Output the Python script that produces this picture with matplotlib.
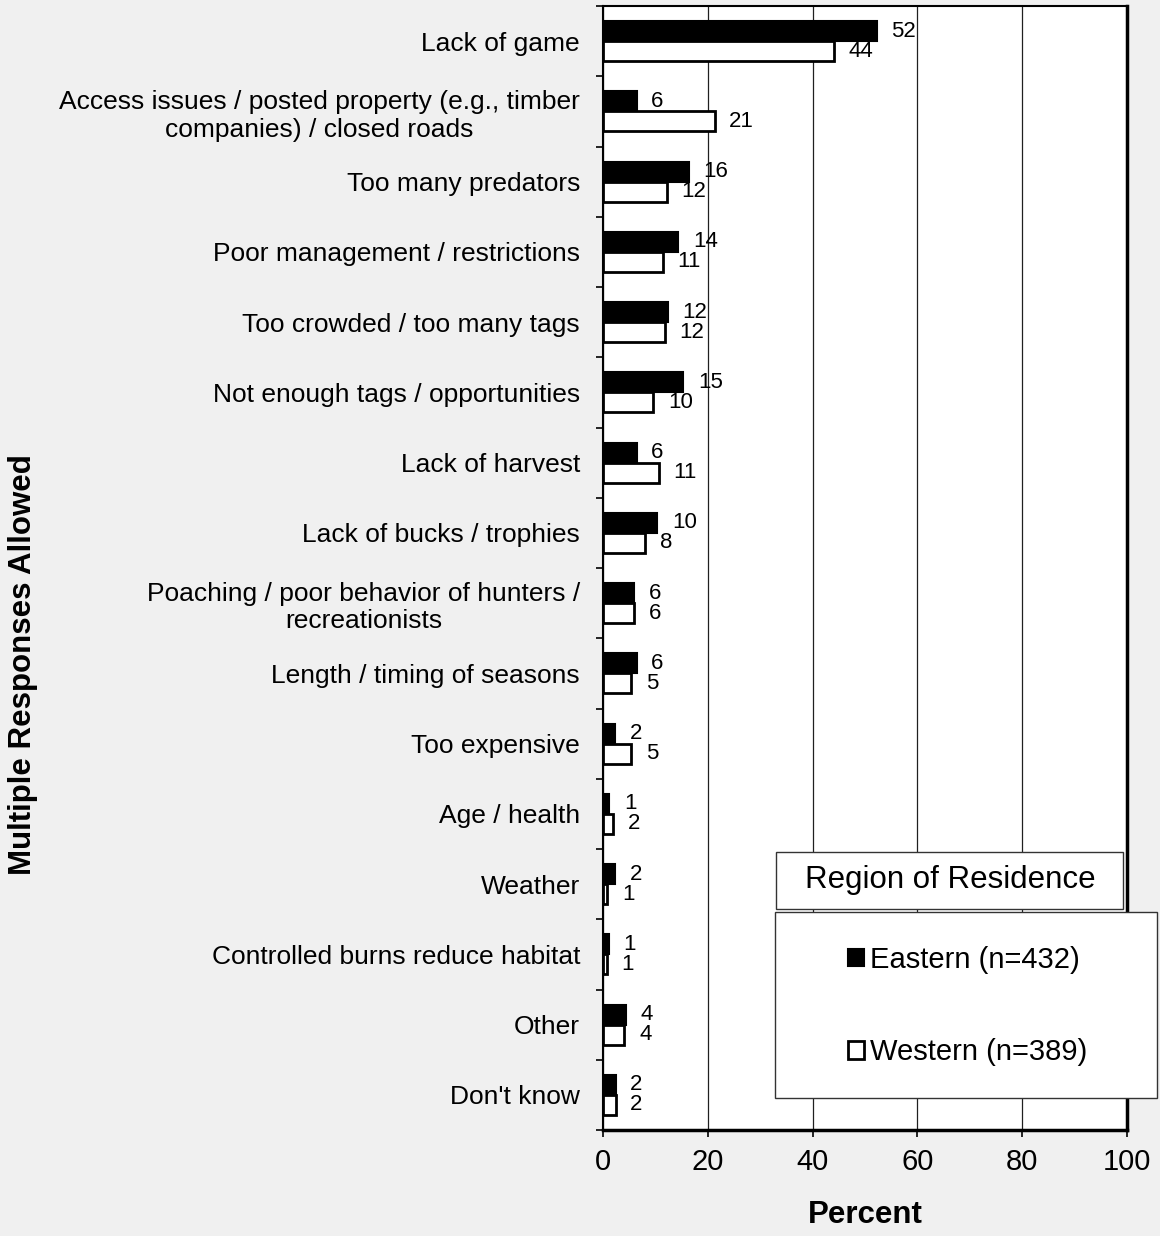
import matplotlib
matplotlib.use("Agg")
import matplotlib.pyplot as plt
from matplotlib.patches import Rectangle
import numpy as np

plt.rcParams['font.family'] = ['Liberation Sans', 'DejaVu Sans']

# Reasons given (top to bottom), multiple responses allowed
categories = [
    "Lack of game",
    "Access issues / posted property (e.g., timber\ncompanies) / closed roads",
    "Too many predators",
    "Poor management / restrictions",
    "Too crowded / too many tags",
    "Not enough tags / opportunities",
    "Lack of harvest",
    "Lack of bucks / trophies",
    "Poaching / poor behavior of hunters /\nrecreationists",
    "Length / timing of seasons",
    "Too expensive",
    "Age / health",
    "Weather",
    "Controlled burns reduce habitat",
    "Other",
    "Don't know",
]
eastern = [52.2, 6.4, 16.4, 14.4, 12.4, 15.3, 6.4, 10.4, 5.9, 6.4, 2.3, 1.2, 2.3, 1.1, 4.4, 2.4]
western = [44.1, 21.3, 12.2, 11.4, 11.8, 9.6, 10.7, 8.1, 6.0, 5.4, 5.4, 1.9, 0.8, 0.7, 4.1, 2.4]
series_names = ["Eastern (n=432)", "Western (n=389)"]
legend_title = "Region of Residence"
x_ticks = [0, 20, 40, 60, 80, 100]

W, H = 1160, 1236
fig = plt.figure(figsize=(W / 100, H / 100), dpi=100)
fig.patch.set_facecolor('#F0F0F0')


def fx(px):
    return px / W


def fy(py):
    return 1 - py / H


ax = fig.add_axes([fx(603), fy(1130), fx(1127) - fx(603), fy(6) - fy(1130)])
ax.set_facecolor('white')

y = np.arange(len(categories))
bh = 0.286
b1 = ax.barh(y - bh / 2, eastern, height=bh, color='black', edgecolor='black',
             linewidth=1.5, zorder=3, label=series_names[0])
b2 = ax.barh(y + bh / 2, western, height=bh, color='white', edgecolor='black',
             linewidth=2, zorder=3, label=series_names[1])

for yy, v in zip(y - bh / 2, eastern):
    ax.annotate(f"{v:.0f}", (v, yy), xytext=(10.5, 0), textcoords='offset points',
                ha='left', va='center', fontsize=16, zorder=4)
for yy, v in zip(y + bh / 2, western):
    ax.annotate(f"{v:.0f}", (v, yy), xytext=(10.5, 0), textcoords='offset points',
                ha='left', va='center', fontsize=16, zorder=4)

ax.set_xlim(0, 100)
ax.set_ylim(len(categories) - 0.5, -0.5)

# boundary ticks on y, labels on minor ticks at category centres
ax.set_yticks(np.arange(len(categories) + 1) - 0.5)
ax.set_yticklabels([])
ax.set_yticks(y, minor=True)
ax.set_yticklabels(categories, minor=True, fontsize=19)
for lab in ax.get_yticklabels(minor=True):
    lab.set_multialignment('center')
ax.tick_params(axis='y', which='major', direction='out', length=5, width=1.2)
ax.tick_params(axis='y', which='minor', length=0, pad=16.5)

ax.set_xticks(x_ticks)
ax.tick_params(axis='x', which='major', direction='out', length=5, width=1.2,
               labelsize=21, pad=8)
ax.set_xlabel("Percent", fontsize=22.5, fontweight='bold', labelpad=17)

ax.xaxis.grid(True, color='#202020', linewidth=0.9, zorder=0)
ax.set_axisbelow(True)

ax.spines['left'].set_linewidth(1.5)
ax.spines['top'].set_linewidth(1.5)
ax.spines['right'].set_linewidth(2.5)
ax.spines['bottom'].set_linewidth(2.5)

fig.text(fx(23), fy(665), "Multiple Responses Allowed", rotation=90,
         ha='center', va='center', fontsize=22.5, fontweight='bold')

# legend: title box and entries box
fig.patches.append(Rectangle((fx(776), fy(909)), fx(1123) - fx(776), fy(852) - fy(909),
                             transform=fig.transFigure, facecolor='white',
                             edgecolor='#333333', linewidth=1.0, zorder=5))
fig.patches.append(Rectangle((fx(775), fy(1098)), fx(1157) - fx(775), fy(912) - fy(1098),
                             transform=fig.transFigure, facecolor='white',
                             edgecolor='#333333', linewidth=1.0, zorder=5))
fig.text(fx(950), fy(880), legend_title, ha='center', va='center', fontsize=22.5, zorder=6)
leg = fig.legend(handles=[b1, b2], labels=series_names, loc='center',
                 bbox_to_anchor=(fx(968), fy(1006)), frameon=False, fontsize=21,
                 handlelength=0.55, handleheight=0.55, handletextpad=0.2,
                 labelspacing=2.2)
leg.set_zorder(7)

fig.savefig('out.png', dpi=100, facecolor=fig.get_facecolor())
